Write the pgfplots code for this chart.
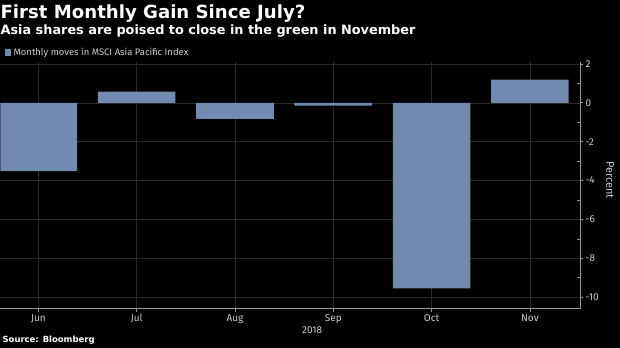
\documentclass[border=0pt]{standalone}
\usepackage{fontspec}
\setmainfont{Fira Sans}
\newfontfamily\titlefont{DejaVu Sans}
\usepackage{pgfplots}
\pgfplotsset{compat=1.18}
\definecolor{barc}{RGB}{115,138,176}
\definecolor{gridc}{RGB}{42,42,42}
\definecolor{ticktxt}{RGB}{205,205,205}
\definecolor{axisc}{RGB}{150,150,150}
\begin{document}
\begin{tikzpicture}[x=1bp,y=1bp]
\fill[black] (0,0) rectangle (620,348);
\begin{axis}[
  at={(0bp,39bp)}, anchor=south west,
  scale only axis, width=580bp, height=247bp,
  xmin=-0.386, xmax=5.51, ymin=-10.6, ymax=2.1,
  axis x line=bottom, axis y line=right,
  axis line style={-, draw=axisc, line width=0.8pt},
  ybar, bar width=0.79, bar shift=0pt,
  xtick={0,1,2,3,4,5},
  xticklabels={Jun,Jul,Aug,Sep,Oct,Nov},
  ytick={-10,-8,-6,-4,-2,0,2},
  yticklabels={-10,-8,-6,-4,-2,0,2},
  minor ytick={-9,-7,-5,-3,-1,1},
  xmajorgrids, ymajorgrids,
  major grid style={draw=gridc, line width=0.5pt},
  tick align=outside,
  major tick length=3bp, minor tick length=3bp,
  tick style={draw=axisc, line width=0.6pt},
  minor tick style={xshift=-3bp},
  tick label style={font=\fontsize{10}{11}\selectfont, text=ticktxt},
  yticklabel style={xshift=-1bp},
  xticklabel style={yshift=1bp},
]
\addplot[fill=barc, draw=none] coordinates {
  (0,-3.52) (1,0.57) (2,-0.83) (3,-0.15) (4,-9.55) (5,1.19)
};
\end{axis}
\node[text=ticktxt, anchor=center, font=\fontsize{11}{12}\selectfont, rotate=-90] at (610,168) {Percent};
\node[text=ticktxt, anchor=center, font=\fontsize{10}{11}\selectfont] at (312,18) {2018};
\node[text=white, anchor=base west, inner sep=0, font=\titlefont\fontsize{18.2}{20}\selectfont\bfseries] at (0,329) {First Monthly Gain Since July?};
\node[text=white, anchor=base west, inner sep=0, font=\titlefont\fontsize{12.9}{14}\selectfont\bfseries] at (0,313) {Asia shares are poised to close in the green in November};
\fill[barc] (5,292) rectangle (11,299);
\node[text=ticktxt, anchor=base west, inner sep=0, font=\fontsize{9.5}{10}\selectfont] at (13,292) {Monthly moves in MSCI Asia Pacific Index};
\node[text=white, anchor=base west, inner sep=0, font=\titlefont\fontsize{8.5}{10}\selectfont\bfseries] at (2,5) {Source: Bloomberg};
\end{tikzpicture}
\end{document}
